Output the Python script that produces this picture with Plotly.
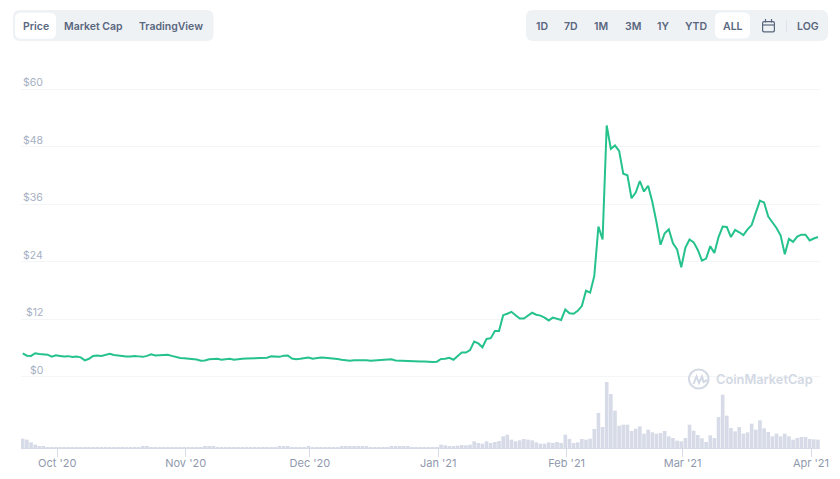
import pandas as pd
import plotly.graph_objects as go

# daily price, USD
price = [
    4.85, 4.35, 4.3, 4.85, 4.7, 4.7, 4.55, 4.15, 4.45, 4.3,
    4.15, 4.25, 4.05, 4.15, 4.0, 3.37, 3.7, 4.3, 4.4, 4.3,
    4.5, 4.75, 4.5, 4.35, 4.25, 4.15, 4.2, 4.3, 4.2, 4.1,
    4.3, 4.65, 4.4, 4.45, 4.5, 4.55, 4.3, 4.05, 3.85, 3.8,
    3.75, 3.7, 3.55, 3.3, 3.35, 3.6, 3.7, 3.7, 3.5, 3.6,
    3.7, 3.5, 3.65, 3.7, 3.75, 3.8, 3.8, 3.85, 3.85, 3.9,
    4.2, 4.15, 4.1, 4.35, 4.4, 3.75, 3.6, 3.7, 3.8, 3.95,
    3.7, 3.85, 3.95, 3.9, 3.85, 3.8, 3.65, 3.5, 3.4, 3.3,
    3.4, 3.45, 3.5, 3.4, 3.3, 3.35, 3.45, 3.5, 3.55, 3.6,
    3.35, 3.3, 3.3, 3.2, 3.1, 3.1, 3.15, 3.15, 3.05, 3.05,
    3.1, 3.65, 3.7, 3.9, 3.5, 4.3, 5.0, 5.0, 5.5, 7.3,
    6.9, 6.1, 7.85, 8.0, 9.5, 9.5, 12.8, 13.1, 13.5, 12.8,
    12.1, 12.1, 12.8, 13.3, 12.9, 12.7, 12.3, 11.7, 12.3, 12.1,
    11.8, 14.0, 13.2, 13.1, 13.7, 14.7, 17.9, 17.5, 21.0, 31.3,
    28.6, 52.4, 47.5, 48.2, 47.1, 42.3, 42.0, 37.2, 38.4, 40.8,
    38.6, 39.8, 36.5, 32.3, 27.5, 29.9, 30.7, 27.8, 26.5, 22.8,
    26.9, 28.6, 28.0, 26.4, 24.2, 24.6, 27.2, 25.8, 29.1, 31.3,
    31.2, 29.1, 30.6, 30.1, 29.5, 30.7, 31.6, 34.2, 36.7, 36.3,
    33.4, 32.2, 31.0, 29.4, 25.5, 28.7, 28.1, 29.2, 29.6, 29.6,
    28.4, 28.8, 29.1,
]

# relative volume, no scale on the picture
volume = [
    28, 25, 17, 10, 5, 4, 3, 3, 3, 3,
    3, 3, 3, 3, 3, 3, 3, 3, 3, 3,
    3, 3, 3, 1, 1, 1, 1, 1, 1, 4,
    4, 3, 3, 3, 3, 3, 3, 3, 3, 3,
    3, 3, 3, 3, 4, 6, 6, 3, 1, 3,
    3, 3, 3, 3, 3, 3, 3, 3, 3, 3,
    3, 3, 4, 5, 4, 3, 3, 1, 3, 4,
    3, 2, 3, 3, 3, 3, 3, 4, 5, 6,
    5, 4, 4, 4, 3, 1, 3, 3, 3, 4,
    4, 5, 5, 4, 3, 3, 3, 3, 3, 3,
    3, 10, 8, 5, 5, 7, 9, 8, 10, 20,
    15, 13, 20, 15, 18, 21, 35, 40, 25, 20,
    23, 27, 25, 23, 17, 13, 13, 17, 15, 18,
    15, 40, 27, 15, 17, 27, 25, 28, 57, 105,
    63, 198, 162, 112, 67, 70, 70, 51, 58, 65,
    43, 55, 47, 43, 45, 51, 35, 30, 22, 20,
    30, 70, 52, 39, 29, 18, 38, 30, 93, 160,
    97, 60, 50, 63, 43, 47, 73, 55, 83, 59,
    48, 35, 43, 35, 43, 35, 25, 30, 33, 33,
    27, 26, 25,
]

dates = pd.date_range("2020-09-22 16:00", periods=len(price), freq="D")

y_ticks = [0, 12, 24, 36, 48, 60]
y_labels = ["$0", "$12", "$24", "$36", "$48", "$60"]
x_ticks = ["2020-10-01", "2020-11-01", "2020-12-01", "2021-01-01", "2021-02-01", "2021-03-01", "2021-04-01"]
x_labels = ["Oct '20", "Nov '20", "Dec '20", "Jan '21", "Feb '21", "Mar '21", "Apr '21"]

W, H = 840, 479
# plot box is a bit taller than the $60 line, plotly drops grid lines sitting on the range ends
LEFT, RIGHT, TOP, BOTTOM = 21, 820, 79, 448
ZERO_PX, SIXTY_PX = 376.5, 89
PER_DOLLAR = (ZERO_PX - SIXTY_PX) / 60
GREY = "#58667e"
WATERMARK = "#d3d9e4"


# page pixels -> paper coords, for the toolbar around the chart
def px(x):
    return (x - LEFT) / (RIGHT - LEFT)


def py(y):
    return (BOTTOM - y) / (BOTTOM - TOP)


def round_rect(x0, y0, x1, y1, r, fill):
    rx, ry = r / (RIGHT - LEFT), r / (BOTTOM - TOP)
    a, b, c, d = px(x0), px(x1), py(y0), py(y1)
    path = (f"M{a+rx},{c} L{b-rx},{c} Q{b},{c} {b},{c-ry} L{b},{d+ry} Q{b},{d} {b-rx},{d} "
            f"L{a+rx},{d} Q{a},{d} {a},{d+ry} L{a},{c-ry} Q{a},{c} {a+rx},{c} Z")
    return dict(type="path", xref="paper", yref="paper", path=path, fillcolor=fill, line_width=0, layer="below")


def stroke(x0, y0, x1, y1, color, width=1.2):
    return dict(type="line", xref="paper", yref="paper", x0=px(x0), y0=py(y0), x1=px(x1), y1=py(y1),
                line=dict(color=color, width=width))


def label(text, x, y, size=10.5, color=GREY, weight=600, anchor="center"):
    return dict(text=text, xref="paper", yref="paper", x=px(x), y=py(y), xanchor=anchor, yanchor="middle",
                showarrow=False, font=dict(family="Inter", size=size, color=color, weight=weight))


fig = go.Figure()
fig.add_trace(go.Bar(x=dates, y=volume, yaxis="y2", marker=dict(color="#d6dbe7", line_width=0)))
fig.add_trace(go.Scatter(x=dates, y=price, mode="lines", line=dict(color="#25c28b", width=2)))

shapes = [
    round_rect(13, 10, 213.5, 41, 7, "#eff2f5"),
    round_rect(15, 12.7, 56, 38.7, 6, "#ffffff"),
    round_rect(526, 10, 828, 41, 7, "#eff2f5"),
    round_rect(715, 12.5, 750, 38.5, 6, "#ffffff"),
    stroke(786.5, 20, 786.5, 32, "#dfe3ea", 1),
    # calendar icon
    round_rect(762, 21, 775, 32.5, 2, GREY),
    round_rect(763.2, 22.2, 773.8, 31.3, 1, "#eff2f5"),
    stroke(762.5, 25, 774.5, 25, GREY),
    stroke(765.5, 19, 765.5, 22.5, GREY),
    stroke(771.5, 19, 771.5, 22.5, GREY),
    # watermark logo
    dict(type="circle", xref="paper", yref="paper", x0=px(689), y0=py(388.5), x1=px(708.5), y1=py(369.5),
         line=dict(color=WATERMARK, width=2)),
    dict(type="path", xref="paper", yref="paper",
         path=(f"M{px(693.5)},{py(384)} L{px(696.5)},{py(376.5)} L{px(699)},{py(383)} "
               f"L{px(702)},{py(376.5)} L{px(703.5)},{py(382)} L{px(707.5)},{py(380)}"),
         line=dict(color=WATERMARK, width=2)),
]

annotations = [
    label("Price", 35.5, 26),
    label("Market Cap", 93.7, 26),
    label("TradingView", 171, 26),
    label("1D", 542, 26),
    label("7D", 571.3, 26),
    label("1M", 601, 26),
    label("3M", 632.7, 26),
    label("1Y", 663, 26),
    label("YTD", 696, 26),
    label("ALL", 732.7, 26),
    label("LOG", 807.7, 26),
    label("CoinMarketCap", 714, 379, size=12.8, color=WATERMARK, anchor="left"),
]
for val, txt in zip(y_ticks, y_labels):
    annotations.append(dict(text=txt, xref="paper", yref="y", x=px(44.5), y=val, xanchor="right", yanchor="middle",
                            yshift=6.5, showarrow=False, font=dict(family="Inter", size=10.5, color="#a6b0c3")))

# price axis runs a little past $0 and $60 so both grid lines stay
price_low = -1
price_high = 60 + (SIXTY_PX - TOP) / PER_DOLLAR

fig.update_layout(
    width=W,
    height=H,
    margin=dict(l=LEFT, r=W - RIGHT, t=TOP, b=H - BOTTOM),
    paper_bgcolor="white",
    plot_bgcolor="white",
    showlegend=False,
    bargap=0.12,
    shapes=shapes,
    annotations=annotations,
    font=dict(family="Inter"),
    xaxis=dict(
        type="date",
        automargin=False,
        range=[dates[0] - pd.Timedelta(hours=10), dates[-1] + pd.Timedelta(hours=12)],
        anchor="y2",
        tickmode="array",
        tickvals=x_ticks,
        ticktext=x_labels,
        ticks="outside",
        ticklen=8,
        tickcolor="#d6dbe7",
        tickfont=dict(size=11, color="#8f99ad"),
        ticklabelstandoff=-3,
        showgrid=False,
        showline=True,
        linecolor="#d6dbe7",
        zeroline=False,
    ),
    yaxis=dict(
        automargin=False,
        domain=[py(ZERO_PX - price_low * PER_DOLLAR), 1],
        range=[price_low, price_high],
        tickvals=y_ticks,
        showticklabels=False,
        gridcolor="#f4f5f7",
        gridwidth=1,
        zeroline=False,
    ),
    yaxis2=dict(
        automargin=False,
        domain=[0, py(382)],
        range=[0, 198],
        showticklabels=False,
        showgrid=False,
        zeroline=False,
    ),
)

fig.write_html("out.html", post_script="document.body.style.margin='0'", config={"displayModeBar": False})
